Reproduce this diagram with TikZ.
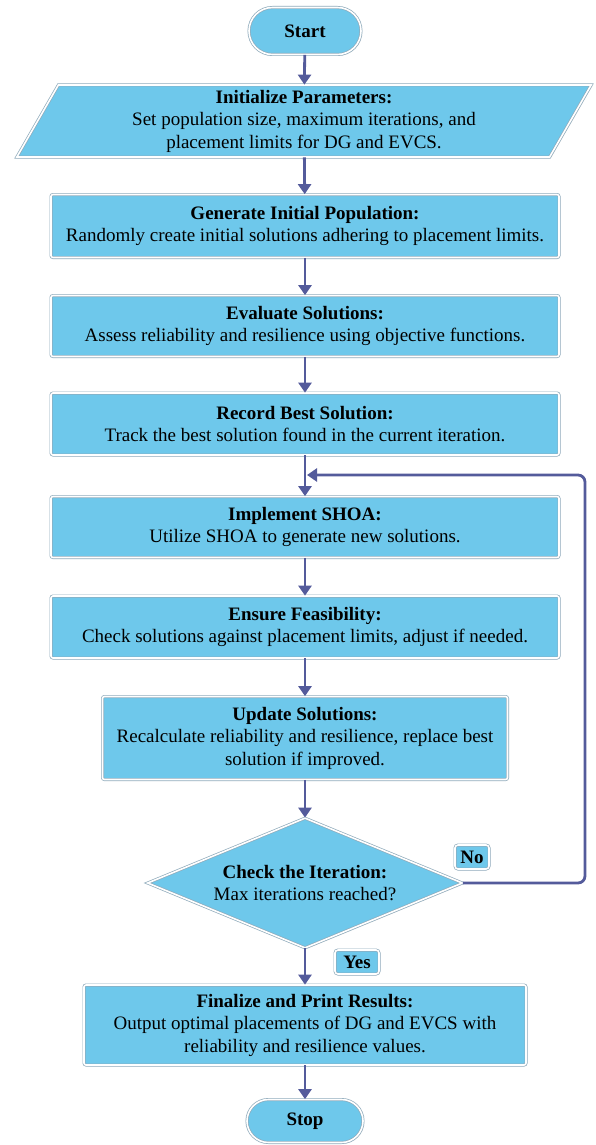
\documentclass[tikz,border=0pt]{standalone}
\usepackage{fontspec}
\setmainfont{Liberation Serif}
\usepackage{tikz}
\usetikzlibrary{shapes.geometric, shapes.misc, arrows.meta, shadows, positioning}

\definecolor{boxfill}{HTML}{6EC8EB}
\definecolor{boxedge}{HTML}{8FAABB}
\definecolor{flowline}{HTML}{545B9B}

\tikzset{
  base/.style={draw=boxedge, line width=0.7pt, double=white, double distance=1.6pt, fill=boxfill,
    align=center, inner sep=0pt, font=\fontsize{19}{22.5}\selectfont,
    drop shadow={opacity=0.2, shadow xshift=1.2pt, shadow yshift=-1.2pt}},
  term/.style={base, rounded rectangle, font=\fontsize{19}{22.5}\selectfont\bfseries},
  proc/.style={base, rectangle, rounded corners=2pt},
  io/.style={base, trapezium, trapezium left angle=65, trapezium right angle=115,
    trapezium stretches=true},
  decide/.style={base, diamond, aspect=2.4},
  tag/.style={base, rectangle, rounded corners=3pt, font=\fontsize{19}{22.5}\selectfont\bfseries,
    minimum width=34pt, minimum height=24pt},
  flow/.style={draw=flowline, line width=2.8pt, -{Triangle[width=13pt,length=10pt]}}
}

\begin{document}
\begin{tikzpicture}[x=1pt, y=-1pt]

            \useasboundingbox (0,0) rectangle (595,1145);

            % Start und Eingabe
            \node[term, minimum width=112pt, minimum height=47pt] (start) at (305,31) {Start};
            \node[io, minimum width=575pt, minimum height=72pt] (init) at (304,121)
              {\textbf{Initialize Parameters:}\\Set population size, maximum iterations, and\\placement limits for DG and EVCS.};

            % Verarbeitungsschritte
            \node[proc, minimum width=508pt, minimum height=63pt] (gen) at (305,226)
              {\textbf{Generate Initial Population:}\\Randomly create initial solutions adhering to placement limits.};
            \node[proc, minimum width=508pt, minimum height=61pt] (eval) at (305,326)
              {\textbf{Evaluate Solutions:}\\Assess reliability and resilience using objective functions.};
            \node[proc, minimum width=508pt, minimum height=62pt] (record) at (305,424)
              {\textbf{Record Best Solution:}\\Track the best solution found in the current iteration.};
            \node[proc, minimum width=508pt, minimum height=61pt] (shoa) at (305,527)
              {\textbf{Implement SHOA:}\\Utilize SHOA to generate new solutions.};
            \node[proc, minimum width=508pt, minimum height=62pt] (feas) at (305,627)
              {\textbf{Ensure Feasibility:}\\Check solutions against placement limits, adjust if needed.};
            \node[proc, minimum width=405pt, minimum height=83pt] (update) at (305,738)
              {\textbf{Update Solutions:}\\Recalculate reliability and resilience, replace best\\solution if improved.};

            % Abfrage
            \node[decide, minimum width=315pt, minimum height=130pt] (check) at (305,883)
              {\textbf{Check the Iteration:}\\Max iterations reached?};
            \node[tag] (no) at (472,857) {No};
            \node[tag, minimum width=44pt] (yes) at (357,962) {Yes};

            % Ausgabe und Ende
            \node[proc, minimum width=442pt, minimum height=80pt] (final) at (305,1025)
              {\textbf{Finalize and Print Results:}\\Output optimal placements of DG and EVCS with\\reliability and resilience values.};
            \node[term, minimum width=116pt, minimum height=43pt] (stop) at (305,1121) {Stop};

            % Verbindungen
            \draw[flow] (start) -- (init);
            \draw[flow] (init) -- (gen);
            \draw[flow] (gen) -- (eval);
            \draw[flow] (eval) -- (record);
            \draw[flow] (record) -- (shoa);
            \draw[flow] (shoa) -- (feas);
            \draw[flow] (feas) -- (update);
            \draw[flow] (update) -- (check);
            \draw[flow] (check) -- (final);
            \draw[flow] (final) -- (stop);

            % Rueckfuehrung
            \coordinate (loopin) at (307,475);
            \draw[flow, rounded corners=7pt] (check.east) -| (585,475) -- (loopin);

\end{tikzpicture}
\end{document}
